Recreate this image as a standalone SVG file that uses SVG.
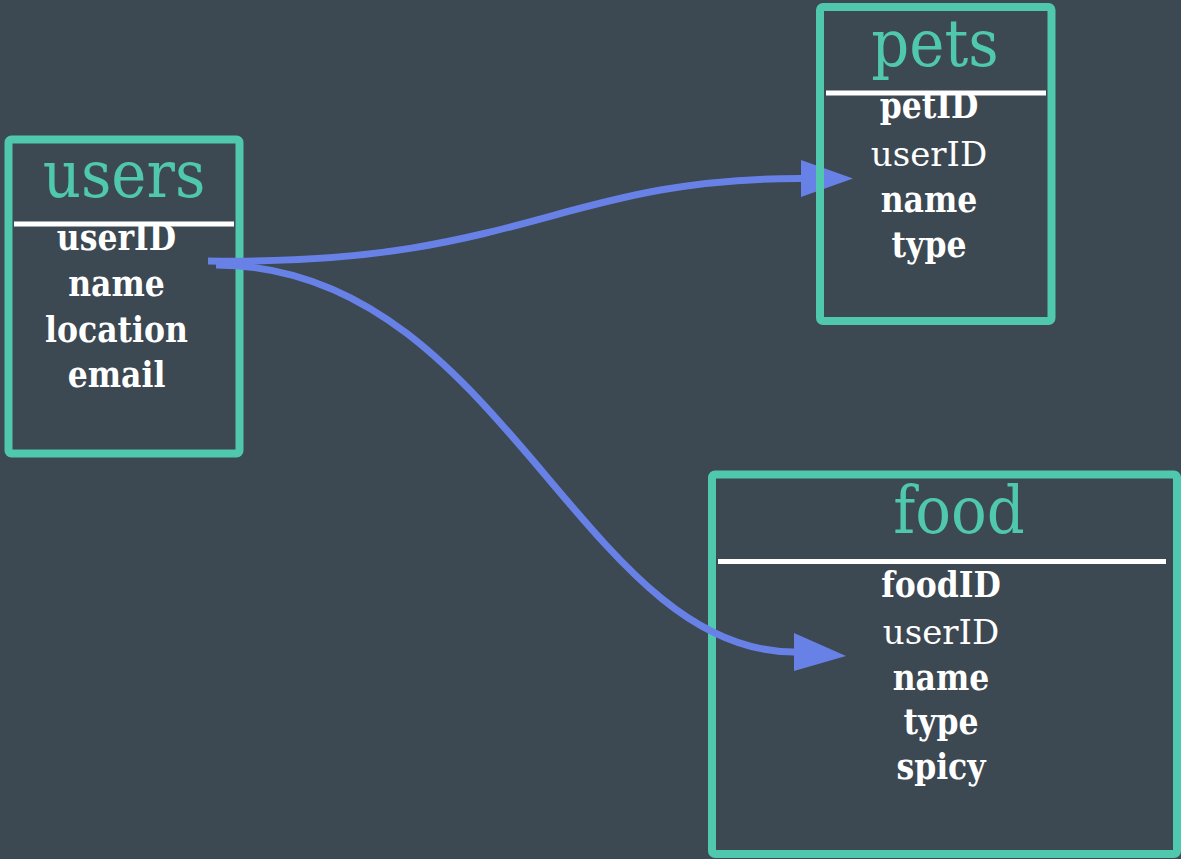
<svg xmlns="http://www.w3.org/2000/svg" width="1181" height="859" viewBox="0 0 1181 859">
<style>
.box{fill:none;stroke:#4fc8ad;stroke-width:8}
.div{stroke:#ffffff;stroke-width:5}
.title{font-family:"DejaVu Serif Condensed","DejaVu Serif","Liberation Serif",serif;font-stretch:condensed;font-size:66px;fill:#4fc8ad;text-anchor:middle}
.f{font-family:"DejaVu Serif Condensed","DejaVu Serif","Liberation Serif",serif;font-stretch:condensed;font-size:35px;fill:#ffffff;text-anchor:middle;font-weight:bold}
.fl{font-family:"DejaVu Serif","Liberation Serif",serif;font-stretch:normal;font-weight:normal;font-size:34px}
.conn{fill:none;stroke:#6881e6;stroke-width:7}
.head{fill:#6881e6}
</style>
<rect width="1181" height="859" fill="#3c4852"/>
<g id="users">
<rect class="box" x="8.5" y="139.5" width="231" height="314" rx="3"/>
<line class="div" x1="14" y1="224" x2="234" y2="224"/>
<text class="title" x="124" y="197">users</text>
<text class="f" x="116.5" y="250">userID</text>
<text class="f" x="116.5" y="296">name</text>
<text class="f" x="116.5" y="341.5">location</text>
<text class="f" x="116.5" y="387">email</text>
</g>
<g id="food">
<rect class="box" x="712" y="474.5" width="465" height="379.5" rx="3"/>
<line class="div" x1="718" y1="561.5" x2="1166" y2="561.5"/>
<text class="title" x="959" y="533">food</text>
<text class="f" x="941" y="596.5">foodID</text>
<text class="f fl" x="941" y="644">userID</text>
<text class="f" x="941" y="689.5">name</text>
<text class="f" x="941" y="734">type</text>
<text class="f" x="941" y="779">spicy</text>
</g>
<g id="connectors">
<path class="conn" d="M208,261 C520,266 560,178 801,178.5"/>
<polygon class="head" points="801,160 853,178.5 801,197"/>
<path class="conn" d="M216,265 C500,265 580,652 794,652"/>
<polygon class="head" points="794,633 846,656 794,671"/>
</g>
<g id="pets">
<rect class="box" x="820" y="7" width="231.5" height="314" rx="3"/>
<line class="div" x1="826" y1="93" x2="1046" y2="93"/>
<text class="title" x="935" y="66">pets</text>
<text class="f" x="929" y="118">petID</text>
<text class="f fl" x="929" y="166">userID</text>
<text class="f" x="929" y="212">name</text>
<text class="f" x="929" y="257">type</text>
</g>
</svg>
